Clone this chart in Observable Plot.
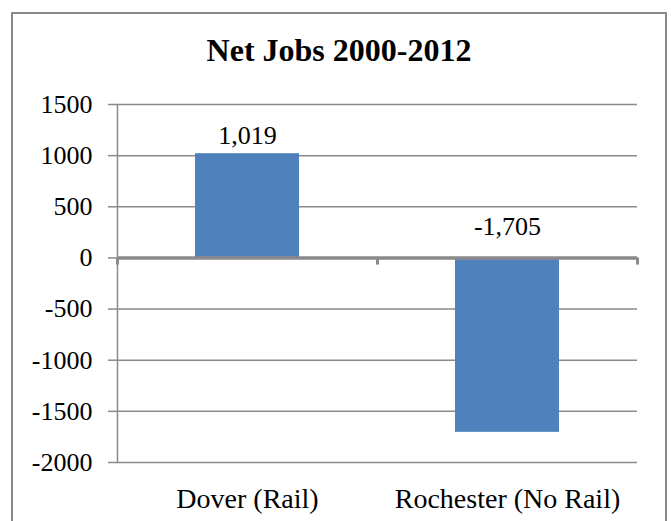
<!DOCTYPE html>
<html><head><meta charset="utf-8">
<script src="https://cdn.jsdelivr.net/npm/d3@7"></script>
<script src="https://cdn.jsdelivr.net/npm/@observablehq/plot@0.6"></script>
<style>
html,body{margin:0;padding:0;background:#fff;overflow:hidden;width:671px;height:521px}
#wrap{position:relative;width:671px;height:521px}
#frame{position:absolute;left:11px;top:12px;width:652px;height:600px;border:2px solid #8a8a8a}
#title{position:absolute;left:11px;width:656px;top:34px;text-align:center;font:bold 32px "Liberation Serif",serif;line-height:1;color:#000}
#chart{position:absolute;left:0;top:0}
#chart svg text{font-family:"Liberation Serif",serif}
</style></head><body>
<div id="wrap"><div id="frame"></div><div id="title">Net Jobs 2000-2012</div><div id="chart"></div></div>
<script>
const categories = ["Dover (Rail)", "Rochester (No Rail)"];
const netJobs = [1019, -1705];
const yTicks = [-2000, -1500, -1000, -500, 0, 500, 1000, 1500];

const data = categories.map((c, i) => ({city: c, jobs: netJobs[i]}));
const fmt = v => v.toLocaleString("en-US");
const gray = "#8a8a8a";

const plot = Plot.plot({
  width: 671, height: 521,
  marginLeft: 117, marginRight: 34, marginTop: 104, marginBottom: 59,
  style: 'font-family: "Liberation Serif", serif; font-size: 26px; color: #000; background: transparent;',
  x: {domain: categories, paddingInner: 0.6, paddingOuter: 0.3, label: null},
  y: {domain: [-2000, 1500], ticks: yTicks, label: null},
  marks: [
    Plot.gridY(yTicks, {stroke: gray, strokeOpacity: 1, strokeWidth: 1.5}),
    Plot.axisY(yTicks, {tickSize: 9, tickPadding: 16, stroke: gray, strokeWidth: 1.5, tickFormat: d => String(d), fontSize: 26, label: null}),
    Plot.frame({anchor: "left", stroke: gray, strokeWidth: 1.5}),
    Plot.barY(data, {x: "city", y: "jobs", fill: "#4F81BD"}),
    Plot.ruleY([0], {stroke: gray, strokeWidth: 3.5}),
    Plot.ruleX([categories[0]], {y1: 0, y2: -70, dx: -130, stroke: gray, strokeWidth: 3}),
    Plot.ruleX(categories, {y1: 0, y2: -70, dx: 130, stroke: gray, strokeWidth: 3}),
    Plot.text(data.filter(d => d.jobs >= 0), {x: "city", y: "jobs", text: d => fmt(d.jobs), dy: -18, fontSize: 26, fill: "#000"}),
    Plot.text(data.filter(d => d.jobs < 0), {x: "city", y: () => 0, text: d => fmt(d.jobs), dy: -31, fontSize: 26, fill: "#000"}),
    Plot.axisX({tickSize: 0, tickPadding: 26, fontSize: 28, label: null})
  ]
});
document.getElementById("chart").append(plot);
</script>
</body></html>
